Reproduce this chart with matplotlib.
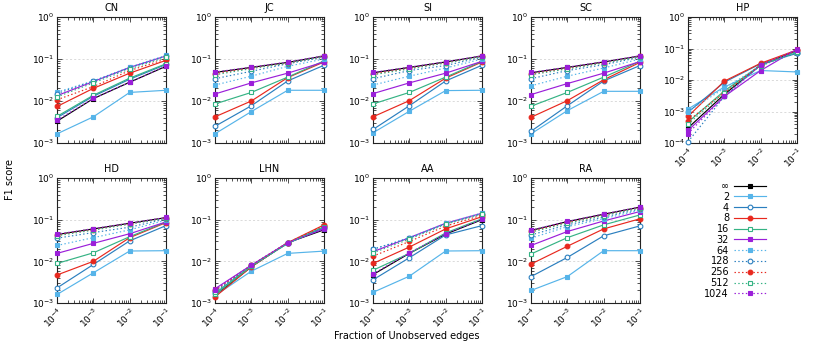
import matplotlib
matplotlib.use('Agg')
import matplotlib.pyplot as plt
from matplotlib.ticker import LogLocator, NullFormatter

plt.rcParams['font.family'] = ['DejaVu Sans']

x_frac = [1e-4, 1e-3, 1e-2, 1e-1]
x_ticklabels = ['$10^{-4}$', '$10^{-3}$', '$10^{-2}$', '$10^{-1}$']
series_labels = ['∞', '2', '4', '8', '16', '32', '64', '128', '256', '512', '1024']
panel_titles = ['CN', 'JC', 'SI', 'SC', 'HP', 'HD', 'LHN', 'AA', 'RA']

# order of series in each panel: ∞, 2, 4, 8, 16, 32, 64, 128, 256, 512, 1024
CN = [
    [3.3e-3, 0.0114, 0.028, 0.067],
    [1.65e-3, 4.2e-3, 0.016, 0.018],
    [4.0e-3, 0.0130, 0.033, 0.074],
    [7.4e-3, 0.020, 0.046, 0.093],
    [4.3e-3, 0.0137, 0.035, 0.077],
    [0.0134, 0.029, 0.063, 0.118],
    [0.0163, 0.030, 0.064, 0.122],
    [0.0150, 0.030, 0.062, 0.118],
    [0.0107, 0.022, 0.053, 0.100],
    [0.0125, 0.027, 0.058, 0.110],
    [3.5e-3, 0.0115, 0.028, 0.068],
]
JC = [
    [0.048, 0.063, 0.083, 0.118],
    [1.66e-3, 5.6e-3, 0.018, 0.018],
    [2.5e-3, 7.7e-3, 0.030, 0.071],
    [4.2e-3, 0.010, 0.036, 0.085],
    [8.5e-3, 0.016, 0.037, 0.090],
    [0.0147, 0.027, 0.046, 0.085],
    [0.024, 0.039, 0.067, 0.100],
    [0.034, 0.051, 0.077, 0.110],
    [0.045, 0.061, 0.080, 0.116],
    [0.042, 0.059, 0.080, 0.115],
    [0.049, 0.064, 0.085, 0.120],
]
SI = [
    [0.047, 0.063, 0.085, 0.118],
    [1.75e-3, 5.7e-3, 0.0177, 0.018],
    [2.1e-3, 7.7e-3, 0.030, 0.071],
    [4.2e-3, 0.0102, 0.035, 0.085],
    [8.5e-3, 0.016, 0.037, 0.088],
    [0.015, 0.027, 0.046, 0.088],
    [0.024, 0.039, 0.061, 0.100],
    [0.034, 0.053, 0.070, 0.110],
    [0.044, 0.060, 0.082, 0.116],
    [0.042, 0.058, 0.080, 0.114],
    [0.048, 0.064, 0.086, 0.120],
]
SC = [
    [0.047, 0.063, 0.085, 0.118],
    [1.65e-3, 5.9e-3, 0.017, 0.017],
    [1.9e-3, 7.7e-3, 0.030, 0.070],
    [4.1e-3, 0.0102, 0.032, 0.083],
    [7.5e-3, 0.016, 0.037, 0.088],
    [0.0142, 0.026, 0.046, 0.087],
    [0.023, 0.039, 0.061, 0.100],
    [0.034, 0.053, 0.073, 0.110],
    [0.044, 0.060, 0.082, 0.116],
    [0.042, 0.058, 0.080, 0.114],
    [0.048, 0.064, 0.086, 0.120],
]
HP = [
    [3.0e-4, 3.5e-3, 0.030, 0.085],
    [1.2e-3, 6.0e-3, 0.020, 0.018],
    [9.5e-4, 8.5e-3, 0.033, 0.070],
    [7.0e-4, 9.2e-3, 0.034, 0.090],
    [4.6e-4, 4.5e-3, 0.030, 0.075],
    [2.5e-4, 3.0e-3, 0.020, 0.095],
    [1.0e-3, 5.5e-3, 0.028, 0.078],
    [1.1e-4, 3.0e-3, 0.030, 0.072],
    [5.0e-4, 4.0e-3, 0.030, 0.088],
    [4.0e-4, 4.0e-3, 0.028, 0.080],
    [2.0e-4, 3.0e-3, 0.030, 0.092],
]
HD = [
    [0.044, 0.060, 0.082, 0.112],
    [1.6e-3, 5.3e-3, 0.0177, 0.018],
    [2.3e-3, 8.4e-3, 0.031, 0.072],
    [4.7e-3, 0.010, 0.037, 0.085],
    [8.9e-3, 0.016, 0.039, 0.088],
    [0.0155, 0.027, 0.046, 0.088],
    [0.024, 0.037, 0.057, 0.097],
    [0.036, 0.049, 0.066, 0.104],
    [0.043, 0.058, 0.080, 0.110],
    [0.041, 0.056, 0.078, 0.108],
    [0.045, 0.061, 0.083, 0.113],
]
LHN = [
    [1.5e-3, 7.4e-3, 0.028, 0.057],
    [1.5e-3, 5.8e-3, 0.0155, 0.0176],
    [1.7e-3, 7.8e-3, 0.027, 0.065],
    [1.4e-3, 7.4e-3, 0.028, 0.075],
    [1.6e-3, 7.6e-3, 0.027, 0.068],
    [2.2e-3, 8.1e-3, 0.028, 0.060],
    [1.8e-3, 7.8e-3, 0.027, 0.066],
    [1.9e-3, 8.0e-3, 0.027, 0.064],
    [2.0e-3, 8.0e-3, 0.028, 0.072],
    [1.8e-3, 7.6e-3, 0.027, 0.068],
    [2.1e-3, 8.1e-3, 0.028, 0.062],
]
AA = [
    [4.8e-3, 0.0155, 0.045, 0.100],
    [1.8e-3, 4.4e-3, 0.0177, 0.018],
    [3.6e-3, 0.0122, 0.043, 0.072],
    [8.9e-3, 0.022, 0.060, 0.118],
    [6.1e-3, 0.0155, 0.048, 0.105],
    [0.017, 0.037, 0.082, 0.143],
    [0.0195, 0.037, 0.082, 0.145],
    [0.0195, 0.036, 0.080, 0.140],
    [0.0133, 0.030, 0.070, 0.128],
    [0.016, 0.034, 0.078, 0.135],
    [5.0e-3, 0.016, 0.046, 0.102],
]
RA = [
    [0.055, 0.090, 0.135, 0.200],
    [2.0e-3, 4.3e-3, 0.018, 0.018],
    [4.3e-3, 0.0124, 0.041, 0.071],
    [8.6e-3, 0.023, 0.060, 0.105],
    [0.015, 0.037, 0.075, 0.130],
    [0.024, 0.052, 0.093, 0.157],
    [0.036, 0.068, 0.105, 0.170],
    [0.043, 0.075, 0.115, 0.180],
    [0.053, 0.086, 0.130, 0.195],
    [0.050, 0.082, 0.125, 0.190],
    [0.056, 0.091, 0.137, 0.202],
]
panel_data = [CN, JC, SI, SC, HP, HD, LHN, AA, RA]

colors = ['black', '#56b4e9', '#2b7fbf', '#e8281e', '#35b384', '#9b1fd9',
          '#56b4e9', '#2b7fbf', '#e8281e', '#35b384', '#9b1fd9']
markers = ['s', 's', 'o', 'o', 's', 's', 's', 'o', 'o', 's', 's']
filled = [True, True, False, True, False, True, True, False, True, False, True]
msizes = [3.4, 3.4, 3.4, 3.4, 3.4, 2.8, 3.4, 3.4, 3.4, 3.4, 2.8]
styles = ['-'] * 6 + [(0, (1.2, 2))] * 5

W, H = 814, 345
col_left = [57, 215, 373, 531, 688]
aw = 109
rows = [(17, 143), (178, 303)]

fig = plt.figure(figsize=(W / 100, H / 100), dpi=100)

def make_ax(r, c):
    top, bot = rows[r]
    return fig.add_axes([col_left[c] / W, 1 - bot / H, aw / W, (bot - top) / H])

positions = [(0, 0), (0, 1), (0, 2), (0, 3), (0, 4), (1, 0), (1, 1), (1, 2), (1, 3)]
handles = []
for p, (title, data) in enumerate(zip(panel_titles, panel_data)):
    r, c = positions[p]
    ax = make_ax(r, c)
    for i, ys in enumerate(data):
        mfc = colors[i] if filled[i] else 'white'
        ln, = ax.plot(x_frac, ys, color=colors[i], linestyle=styles[i], linewidth=0.85,
                      marker=markers[i], markersize=msizes[i], markerfacecolor=mfc,
                      markeredgecolor=colors[i], markeredgewidth=0.8, clip_on=False,
                      label=series_labels[i], zorder=3 + i * 0.01)
        if p == 0:
            handles.append(ln)
    ax.set_xscale('log')
    ax.set_yscale('log')
    ax.set_xlim(1e-4, 1e-1)
    if title == 'HP':
        ax.set_ylim(1e-4, 1)
    else:
        ax.set_ylim(1e-3, 1)
    ax.yaxis.set_major_locator(LogLocator(base=10, numticks=10))
    ax.yaxis.set_minor_locator(LogLocator(base=10, subs=range(2, 10), numticks=20))
    ax.yaxis.set_minor_formatter(NullFormatter())
    ax.xaxis.set_minor_locator(LogLocator(base=10, subs=range(2, 10), numticks=20))
    ax.xaxis.set_minor_formatter(NullFormatter())
    ax.set_xticks(x_frac)
    if r == 1 or title == 'HP':
        ax.set_xticklabels(x_ticklabels, rotation=45, ha='right', va='top',
                           rotation_mode='anchor', fontsize=6.5)
    else:
        ax.set_xticklabels([])
    ax.tick_params(which='both', direction='in', top=True, right=True, labelsize=6.5,
                   width=0.6, colors='#333333', labelcolor='black')
    ax.tick_params(which='major', length=3.5, pad=2)
    ax.tick_params(which='minor', length=2)
    ax.grid(True, which='major', axis='y', color='#cccccc', linestyle=(0, (3, 3)), linewidth=0.5)
    ax.set_axisbelow(True)
    for s in ax.spines.values():
        s.set_linewidth(0.8)
        s.set_color('#222222')
    ax.set_title(title, fontsize=7, pad=4)

fig.legend(handles, series_labels, loc='upper right', bbox_to_anchor=(766 / W, 1 - 181 / H),
           markerfirst=False, frameon=False, fontsize=7, labelspacing=0.08,
           handlelength=3.3, handletextpad=0.5, borderpad=0, borderaxespad=0)

fig.text(10 / W, 1 - 179 / H, 'F1 score', rotation=90, ha='center', va='center', fontsize=7)
fig.text(407 / W, 1 - 336 / H, 'Fraction of Unobserved edges', ha='center', va='center', fontsize=7)

fig.savefig('out.png', dpi=100)
